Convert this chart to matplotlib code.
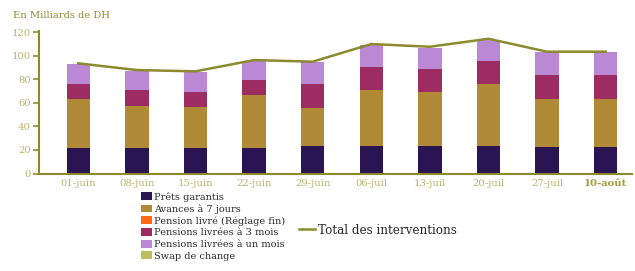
import matplotlib
matplotlib.use("Agg")
import matplotlib.pyplot as plt
import numpy as np

plt.rcParams['font.family'] = ['DejaVu Serif']

dates = ["01-juin", "08-juin", "15-juin", "22-juin", "29-juin",
         "06-juil", "13-juil", "20-juil", "27-juil", "10-août"]
prets_garantis = [21.9, 21.9, 21.9, 21.9, 23.6, 23.6, 23.6, 23.6, 22.8, 22.8]
avances_7j = [41.1, 35.4, 34.9, 45.0, 32.3, 47.1, 45.4, 52.2, 40.8, 40.8]
pension_fin = [0, 0, 0, 0, 0, 0, 0, 0, 0, 0]
pensions_3m = [12.8, 13.4, 12.2, 12.5, 19.9, 20.0, 19.8, 19.8, 19.8, 19.8]
pensions_1m = [17.0, 16.6, 17.2, 16.2, 18.7, 18.5, 17.6, 17.8, 19.6, 20.1]
swap_change = [0, 0, 0, 0, 0, 0, 0, 0, 0, 0]
total = [93.6, 87.9, 86.8, 96.4, 95.0, 110.0, 107.7, 114.5, 103.5, 103.5]

series = [
    ("Prêts garantis", prets_garantis, "#2b1452"),
    ("Avances à 7 jours", avances_7j, "#b08a36"),
    ("Pension livré (Réglage fin)", pension_fin, "#ff6a14"),
    ("Pensions livrées à 3 mois", pensions_3m, "#9c2c62"),
    ("Pensions livrées à un mois", pensions_1m, "#bb88d6"),
    ("Swap de change", swap_change, "#bdbd5c"),
]

olive = "#8c8a2e"
tickc = "#b8b266"

W, H = 635, 271
fig = plt.figure(figsize=(W / 100, H / 100), dpi=100)
ax = fig.add_axes([39 / W, 1 - 173.5 / H, (632 - 39) / W, (173.5 - 31.1) / H])

x = np.arange(len(dates))
bottom = np.zeros(len(dates))
handles = []
for name, vals, col in series:
    v = np.array(vals, dtype=float)
    b = ax.bar(x, v, 0.40, bottom=bottom, color=col, label=name, linewidth=0)
    handles.append(b)
    bottom += v

ln, = ax.plot(x, total, color=olive, lw=1.8, label="Total des interventions")

ax.set_xlim(-0.67, 9.45)
ax.set_ylim(0, 121)
ax.set_yticks([0, 20, 40, 60, 80, 100, 120])
ax.set_xticks(x)
ax.set_xticklabels(dates)
for sp in ["top", "right"]:
    ax.spines[sp].set_visible(False)
for sp in ["left", "bottom"]:
    ax.spines[sp].set_color(olive)
    ax.spines[sp].set_linewidth(1.5)
ax.tick_params(axis="y", colors=olive, labelcolor=tickc, labelsize=7.2, length=4, width=1.2, pad=2)
ax.tick_params(axis="x", length=0, labelcolor=tickc, labelsize=7.2, pad=4)
lbls = ax.get_xticklabels()
lbls[-1].set_fontweight("bold")
lbls[-1].set_color("#a09a3a")

fig.text(13 / W, 1 - 15 / H, "En Milliards de DH", color=olive, fontsize=7.1, va="center", ha="left")

leg1 = fig.legend(handles=handles, labels=[s[0] for s in series],
                  loc="upper left", bbox_to_anchor=(141 / W, 1 - 192 / H),
                  frameon=False, fontsize=7.0, borderpad=0, borderaxespad=0,
                  labelspacing=0.25, handlelength=1.1, handleheight=0.85,
                  handletextpad=0.2, labelcolor="#2a2a2a")
fig.legend(handles=[ln], labels=["Total des interventions"],
           loc="center left", bbox_to_anchor=(299 / W, 1 - 230 / H),
           frameon=False, fontsize=8.6, borderpad=0, borderaxespad=0,
           handlelength=1.3, handletextpad=0.25, labelcolor="#2a2a2a")

fig.savefig("out.png", dpi=100)
